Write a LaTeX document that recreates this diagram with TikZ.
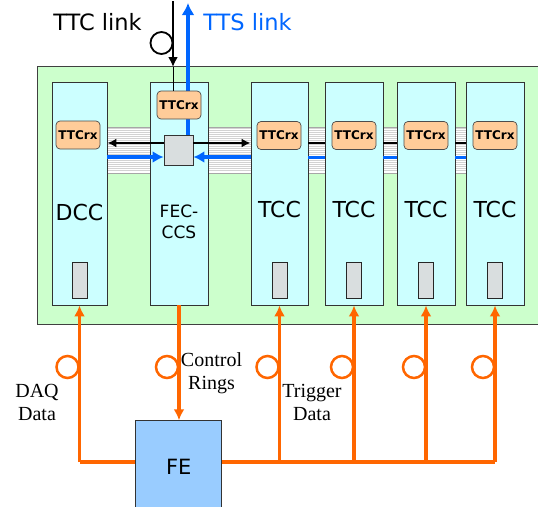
\documentclass[tikz,border=0pt]{standalone}
\usepackage{fontspec}
\setmainfont{DejaVu Sans}
\newfontfamily\serifx{Liberation Serif}
\usetikzlibrary{arrows.meta,calc}
\definecolor{bggreen}{HTML}{CCFFCC}
\definecolor{cardc}{HTML}{CCFFFF}
\definecolor{rxc}{HTML}{FFCC99}
\definecolor{greyc}{HTML}{D9DEDF}
\definecolor{bluec}{HTML}{0066FF}
\definecolor{orgc}{HTML}{FF6600}
\definecolor{fec}{HTML}{99CCFF}
\begin{document}
\begin{tikzpicture}[x=1pt,y=-1pt,
  card/.style={draw=black!80, line width=0.9pt, fill=cardc, minimum width=57pt, minimum height=223pt, inner sep=0pt},
  rx/.style={draw=black!70, line width=0.7pt, fill=rxc, rounded corners=4pt, minimum width=44pt, minimum height=28pt, inner sep=0pt, font=\fontsize{12}{13}\selectfont\bfseries},
  sbox/.style={draw=black!85, fill=greyc, line width=0.8pt, minimum width=15pt, minimum height=36pt, inner sep=0pt},
  cardlbl/.style={font=\fontsize{22}{24}\selectfont, inner sep=0pt},
  blk/.style={line width=2pt, black},
  blu/.style={line width=4pt, bluec},
  org/.style={line width=3.5pt, orgc},
  oloop/.style={circle, draw=orgc, line width=2.5pt, minimum size=22pt, inner sep=0pt},
  serlbl/.style={font=\serifx\fontsize{20}{23}\selectfont, align=center, inner sep=0pt},
  toplbl/.style={font=\fontsize{22.5}{24}\selectfont, inner sep=0pt}
]
\useasboundingbox (0,0) rectangle (538,506);
% green crate
\draw[fill=bggreen, draw=black!75, line width=0.8pt] (37,66) rectangle (560,324);
% backplane band
\fill[white] (107,127) rectangle (467,173);
\foreach \yy in {128.5,130.5,...,172} \draw[gray!35, line width=0.5pt] (107,\yy) -- (467,\yy);
\draw[gray!70, line width=0.6pt] (107,127) -- (467,127) (107,173) -- (467,173);
\coordinate (bk) at (0,143);
\coordinate (bl) at (0,157);
% cards
\node[card, minimum width=55pt] (dcc) at (79.5,193.5) {};
\node[card, minimum width=58pt] (fecc) at (179,193.5) {};
\node[card] (tcc1) at (279.5,193.5) {};
\node[card, minimum width=58pt] (tcc2) at (354,193.5) {};
\node[card, minimum width=58pt] (tcc3) at (426,193.5) {};
\node[card, minimum width=58pt] (tcc4) at (495,193.5) {};
% card labels
\node[cardlbl] (ldcc) at (79.5,212) {DCC};
\node[cardlbl, font=\fontsize{17}{21}\selectfont, align=center] (lfec) at (179,222) {FEC-\\CCS};
\node[cardlbl] (lt1) at (279.5,209) {TCC};
\node[cardlbl] (lt2) at (354,209) {TCC};
\node[cardlbl] (lt3) at (426,209) {TCC};
\node[cardlbl] (lt4) at (495,209) {TCC};
% small grey boxes
\node[sbox] (sdcc) at (79.5,280) {};
\node[sbox] (st1) at (279.5,280) {};
\node[sbox] (st2) at (354,280) {};
\node[sbox] (st3) at (426,280) {};
\node[sbox] (st4) at (495,280) {};
% grey square (switch)
\node[draw=black!80, fill=greyc, line width=0.8pt, minimum width=29pt, minimum height=30pt, inner sep=0pt] (sq) at (178.5,150) {};
% TTS link
\coordinate (ttsend) at (188,3);
\draw[blu, -{Latex[length=12pt,width=13pt]}] ([xshift=9.5pt]sq.north) -- (sq.north -| ttsend) -- (ttsend);
% TTCrx
\node[rx] (rxdcc) at (78,135) {TTCrx};
\node[rx] (rxfec) at (179,105) {TTCrx};
\node[rx] (rxt1) at (279,135.5) {TTCrx};
\node[rx] (rxt2) at (354,135.5) {TTCrx};
\node[rx] (rxt3) at (426,135.5) {TTCrx};
\node[rx] (rxt4) at (495,135.5) {TTCrx};
% backplane arrows
\draw[blk, -{Latex[length=9pt,width=9pt]}] ([yshift=7pt]sq.west) -- ([yshift=7pt]sq.west -| dcc.east);
\draw[blk, -{Latex[length=9pt,width=9pt]}] ([yshift=7pt]sq.east) -- ([yshift=7pt]sq.east -| tcc1.west);
\draw[blu, -{Latex[length=11pt,width=12pt]}] ([yshift=-7pt]sq.west -| dcc.east) -- ([yshift=-7pt]sq.west);
\draw[blu, -{Latex[length=11pt,width=12pt]}] ([yshift=-7pt]sq.east -| tcc1.west) -- ([yshift=-7pt]sq.east);
\foreach \a/\b in {tcc1/tcc2,tcc2/tcc3,tcc3/tcc4}{
  \draw[blk] (\a.east |- bk) -- (\b.west |- bk);
  \draw[line width=3pt, bluec] (\a.east |- bl) -- (\b.west |- bl);
}
% TTC link
\coordinate (ttctop) at (173,1);
\coordinate (ttcin) at (173,67);
\draw[line width=2.2pt, -{Latex[length=10pt,width=10pt]}] (ttctop) -- (ttcin);
\draw[line width=0.8pt] (ttcin) -- (ttcin |- rxfec.north);
\node[circle, draw, line width=1.8pt, minimum size=22pt, inner sep=0pt] (tloop) at (161.5,43) {};
\node[toplbl] (ttcl) at (97.5,22.5) {TTC link};
\node[toplbl, text=bluec] (ttsl) at (247.5,22.5) {TTS link};
% FE
\node[draw=black!80, fill=fec, line width=0.9pt, minimum width=86pt, minimum height=92.6pt, inner sep=0pt, font=\fontsize{21}{24}\selectfont] (fe) at (178.7,467) {FE};
\coordinate (hl) at (0,462);
\draw[org] (dcc.south |- hl) -- (fe.west |- hl);
\draw[org] (fe.east |- hl) -- (tcc4.south |- hl);
\foreach \c in {dcc,tcc1,tcc2,tcc3,tcc4}
  \draw[org, -{Latex[length=11pt,width=11pt]}] (\c.south |- hl) -- (\c.south);
\draw[org, -{Latex[length=11pt,width=11pt]}] (fecc.south) -- (fecc.south |- fe.north);
% orange loops
\node[oloop] (ldc) at (67.5,367) {};
\node[oloop] (lfe) at (167,367) {};
\node[oloop] (l1) at (267.5,367) {};
\node[oloop] (l2) at (342,367) {};
\node[oloop] (l3) at (414,367) {};
\node[oloop] (l4) at (483,367) {};
% labels
\node[serlbl] (daq) at (37,402) {DAQ\\Data};
\node[serlbl] (ctl) at (211.5,373) {Control\\Rings};
\node[serlbl] (trg) at (312,402) {Trigger\\Data};
\end{tikzpicture}
\end{document}
